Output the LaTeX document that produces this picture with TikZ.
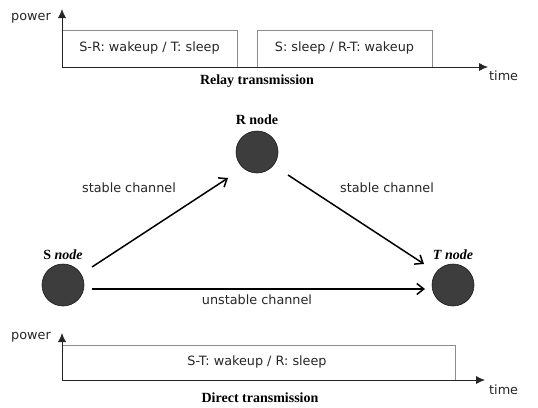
\documentclass[tikz,border=0pt]{standalone}
\usepackage{fontspec}
\setmainfont{Liberation Serif}
\setsansfont{DejaVu Sans}
\usetikzlibrary{arrows.meta}
\begin{document}
\begin{tikzpicture}[x=1pt,y=-1pt,
  lbl/.style={font=\sffamily\fontsize{12.8}{15}\selectfont, text=black!85, inner sep=0pt},
  captext/.style={font=\bfseries\fontsize{14}{16}\selectfont, inner sep=0pt},
  netnode/.style={circle, fill=black!76, draw=black!90, line width=0.6pt, minimum size=42pt, inner sep=0pt},
  axis/.style={line width=0.8pt, black!85, -{Latex[length=9pt,width=8pt]}},
  slot/.style={draw=black!45, line width=0.5pt},
  chan/.style={line width=1.5pt, -{Straight Barb[length=7pt,width=11pt,line width=1.5pt]}}]
\useasboundingbox (0,0) rectangle (538,407);
% top chart
\coordinate (o1) at (62,67);
\coordinate (py1) at (62,9);
\coordinate (tx1) at (488,67);
\draw[slot] (62,67) rectangle (237,30);
\draw[slot] (257,67) rectangle (432,30);
\draw[axis] (o1) -- (py1);
\draw[axis] (o1) -- (tx1);
\node[lbl, anchor=east] (pw1) at (51,18) {power};
\node[lbl, anchor=west] (tm1) at (489,76) {time};
\node[lbl] (b1) at (149.5,48) {S-R: wakeup / T: sleep};
\node[lbl] (b2) at (344.5,48) {S: sleep / R-T: wakeup};
\node[captext] (rt) at (257,81) {Relay transmission};
% network
\node[netnode] (R) at (257,152) {};
\node[netnode] (S) at (63,285) {};
\node[netnode] (T) at (453,285) {};
\node[captext] (Rl) at (257,120) {R node};
\node[captext] (Sl) at (63,255) {S \textit{node}};
\node[captext] (Tl) at (453,255) {\textit{T node}};
\coordinate (s1) at (92,267);
\coordinate (r1) at (228,178);
\coordinate (r2) at (288,175);
\coordinate (t1) at (424,264);
\coordinate (s2) at (92,289);
\coordinate (t2) at (425,289);
\draw[chan] (s1) -- (r1);
\draw[chan] (r2) -- (t1);
\draw[chan] (s2) -- (t2);
\node[lbl] (c1) at (129,188) {stable channel};
\node[lbl] (c2) at (387,188) {stable channel};
\node[lbl] (c3) at (257,300) {unstable channel};
% bottom chart
\coordinate (o2) at (62,380);
\coordinate (py2) at (62,333);
\coordinate (tx2) at (485,380);
\draw[slot] (62,380) rectangle (455,345);
\draw[axis] (o2) -- (py2);
\draw[axis] (o2) -- (tx2);
\node[lbl, anchor=east] (pw2) at (51,337) {power};
\node[lbl, anchor=west] (tm2) at (489,390) {time};
\node[lbl] (b3) at (257,362) {S-T: wakeup / R: sleep};
\node[captext] (dt) at (260,398) {Direct transmission};
\end{tikzpicture}
\end{document}
